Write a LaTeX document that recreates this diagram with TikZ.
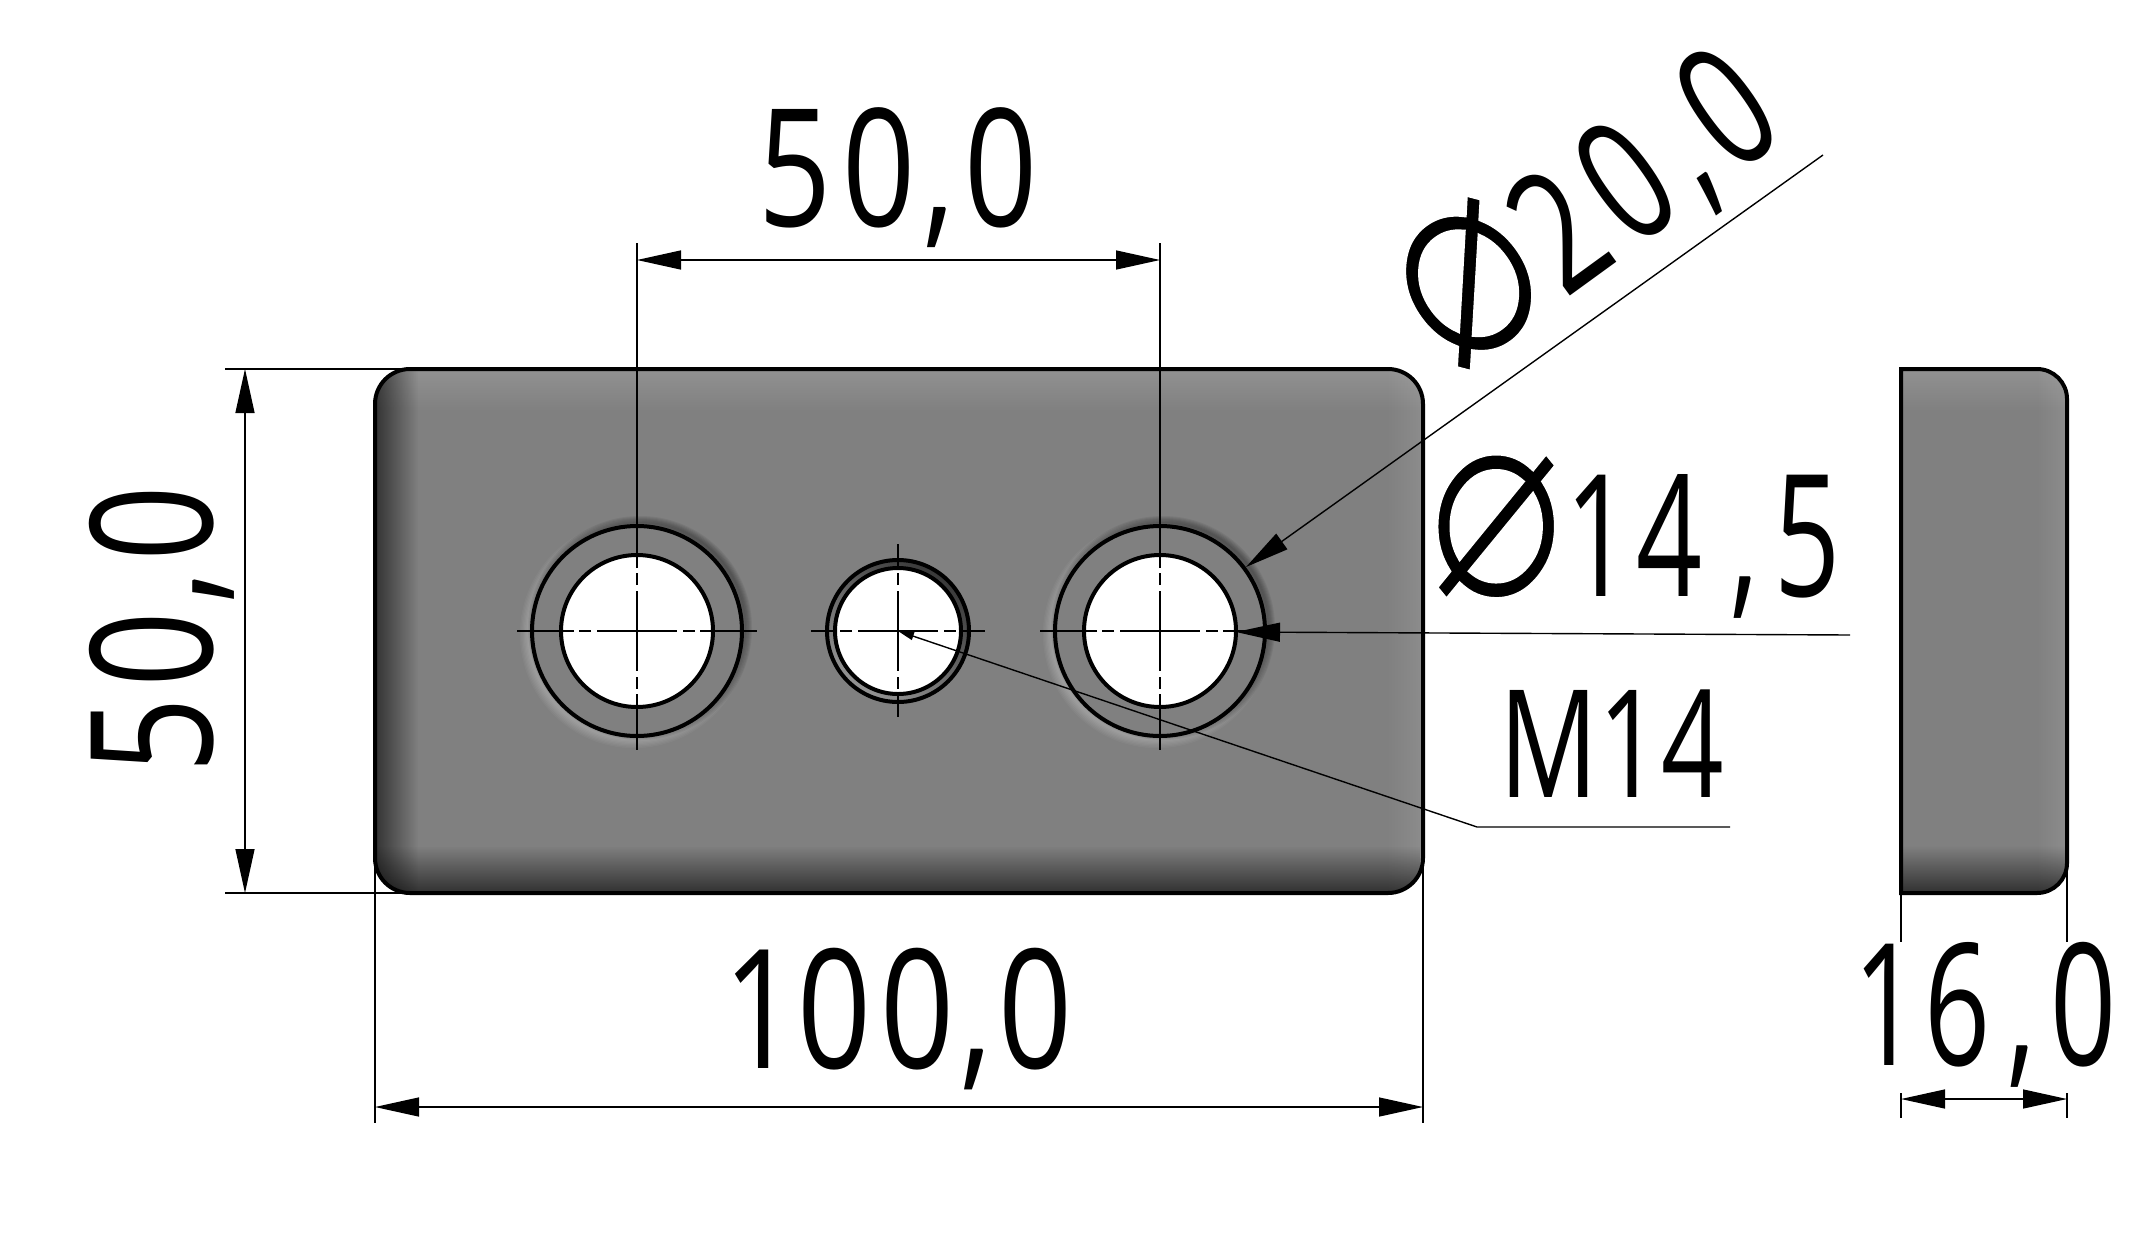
\documentclass[tikz,border=0pt]{standalone}
\usepackage{fontspec}
\usepackage{graphicx}
\setmainfont{Open Sans}
\newfontfamily\symfont{DejaVu Sans}
\usetikzlibrary{arrows.meta,fadings}
\tikzfading[name=fdL, left color=transparent!0, right color=transparent!100]
\tikzfading[name=fdR, left color=transparent!100, right color=transparent!0]
\tikzfading[name=fdT, top color=transparent!0, bottom color=transparent!100]
\tikzfading[name=fdB, top color=transparent!100, bottom color=transparent!0]
\newcommand{\dimfont}[1]{\fontsize{#1}{#1}\selectfont}
\newcommand{\dgx}{.78}
\newcommand{\dg}[1]{\scalebox{\dgx}[1]{#1}}
\newcommand{\setdgx}[1]{\renewcommand{\dgx}{#1}}
\newcommand{\diasym}{\scalebox{1.35}[1.65]{\special{pdf:code q 2 Tr 3.5 w 1 1 1 RG}\symfont\char"2300\special{pdf:code Q}}}
\tikzset{
  thin line/.style={line width=1.4pt,black},
  outline/.style={line width=4pt,black},
  dimtext/.style={inner sep=0pt,outer sep=0pt,anchor=base,black},
  dim both/.style={thin line,{Triangle[length=44pt,width=19pt]}-{Triangle[length=44pt,width=19pt]}},
  dim tip/.style={thin line,{Triangle[length=44pt,width=19pt]}-},
  dim small/.style={thin line,{Triangle[length=16pt,width=8pt]}-},
}
% centre-line cross: cx, cy, half length, top, bottom
\newcommand{\crosshair}[5]{%
  \foreach \sgn in {-1,1}{%
    \draw[thin line] (#1,#2) -- ++(\sgn*40,0);
    \draw[thin line] (#1,#2) ++(\sgn*46,0) -- ++(\sgn*12,0);
    \draw[thin line] (#1,#2) ++(\sgn*63,0) -- ++(\sgn*#3-\sgn*63,0);
    \draw[thin line] (#1,#2) -- ++(0,\sgn*40);
    \draw[thin line] (#1,#2) ++(0,\sgn*46) -- ++(0,\sgn*12);
  }%
  \draw[thin line] (#1,#2-63) -- (#1,#4);
  \draw[thin line] (#1,#2+63) -- (#1,#5);
}
\newcommand{\dimple}[3]{%
  \foreach \k in {1,...,7}{\fill[white,opacity=.04] (#1-3,#2+3) circle ({#3+\k*1.3});}
  \foreach \k in {1,...,7}{\fill[black,opacity=.06] (#1+3,#2-3) circle ({#3+\k*1.0});}
}
\begin{document}
\begin{tikzpicture}[x=1pt,y=-1pt]
\useasboundingbox (0,0) rectangle (2143,1244);
\fill[white] (0,0) rectangle (2143,1244);

% ----- texts set first where leaders pass near them
\node[dimtext] (dimE) at (1634,596) {\dimfont{170}\setdgx{.68}\diasym\dg{1}\kern5pt\dg{4}\kern28pt\dg{,}\kern16pt\dg{5}};
\node[dimtext,rotate=36] (dimG) at (1622,258) {\dimfont{170}\setdgx{.72}\diasym\dg{2}\kern13pt\dg{0}\kern14pt\dg{,}\kern11pt\dg{0}};

% ----- front view
\begin{scope}
  \clip[rounded corners=35pt] (375,369) rectangle (1423,893);
  \fill[black!50] (375,369) rectangle (1423,893);
  \fill[white,opacity=.14,path fading=fdT] (375,369) rectangle (1423,412);
  \fill[white,opacity=.10,path fading=fdR] (1385,369) rectangle (1423,893);
  \fill[black,opacity=.62,path fading=fdB] (375,846) rectangle (1423,893);
  \fill[black,opacity=.60,path fading=fdL] (375,369) rectangle (418,893);
\end{scope}
\draw[outline,rounded corners=35pt] (375,369) rectangle (1423,893);

% ----- holes
\dimple{637}{631}{105}
\dimple{1160}{631}{105}
\fill[black!50] (637,631) circle (105);
\fill[black!50] (1160,631) circle (105);
\draw[outline] (637,631) circle (105);
\draw[outline] (1160,631) circle (105);
\draw[outline,fill=white] (637,631) circle (76);
\draw[outline,fill=white] (1160,631) circle (76);
\shade[top color=black!78,bottom color=black!42,shading angle=-35] (898,631) circle (70);
\draw[line width=4pt] (898,631) circle (71);
\draw[line width=4pt,fill=white] (898,631) circle (63);

% ----- centre lines
\crosshair{637}{631}{120}{243}{750}
\crosshair{1160}{631}{120}{243}{750}
\crosshair{898}{631}{87}{544}{717}

% ----- side view
\begin{scope}
  \clip (1901,369) -- (2037,369) arc[start angle=-90,end angle=0,radius=30] -- (2067,863) arc[start angle=0,end angle=90,radius=30] -- (1901,893) -- cycle;
  \fill[black!50] (1901,369) rectangle (2067,893);
  \fill[white,opacity=.14,path fading=fdT] (1901,369) rectangle (2067,412);
  \fill[white,opacity=.10,path fading=fdR] (2035,369) rectangle (2067,893);
  \fill[black,opacity=.62,path fading=fdB] (1901,846) rectangle (2067,893);
\end{scope}
\draw[outline] (1901,369) -- (2037,369) arc[start angle=-90,end angle=0,radius=30] -- (2067,863) arc[start angle=0,end angle=90,radius=30] -- (1901,893) -- cycle;

% ----- extension lines
\draw[thin line] (225,369) -- (405,369);
\draw[thin line] (225,893) -- (405,893);
\draw[thin line] (375,860) -- (375,1123);
\draw[thin line] (1423,860) -- (1423,1123);
\draw[thin line] (1901,893) -- (1901,942);
\draw[thin line] (2067,860) -- (2067,942);
\draw[thin line] (1901,1093) -- (1901,1118);
\draw[thin line] (2067,1093) -- (2067,1118);

% ----- dimension lines
\coordinate (t1) at (637,260); \coordinate (t2) at (1160,260);
\coordinate (l1) at (245,369); \coordinate (l2) at (245,893);
\coordinate (b1) at (375,1107); \coordinate (b2) at (1423,1107);
\coordinate (s1) at (1901,1099); \coordinate (s2) at (2067,1099);
\draw[dim both] (t1) -- (t2);
\draw[dim both] (l1) -- (l2);
\draw[dim both] (b1) -- (b2);
\draw[dim both] (s1) -- (s2);

% ----- leaders
\coordinate (d20tip) at (1246,567); \coordinate (d20end) at (1823,155);
\coordinate (d14tip) at (1236,632); \coordinate (d14end) at (1850,635);
\coordinate (m14tip) at (898,631); \coordinate (m14elbow) at (1477,827); \coordinate (m14end) at (1730,827);
\draw[dim tip] (d20tip) -- (d20end);
\draw[dim tip] (d14tip) -- (d14end);
\draw[dim small] (m14tip) -- (m14elbow) -- (m14end);

% ----- texts
\node[dimtext] (dimA) at (898,226) {\dimfont{164}\setdgx{.78}\dg{5}\kern11pt\dg{0}\kern8pt\dg{,}\kern9pt\dg{0}};
\node[dimtext,rotate=90] (dimB) at (212,630) {\dimfont{170}\setdgx{.78}\dg{5}\kern11pt\dg{0}\kern8pt\dg{,}\kern9pt\dg{0}};
\node[dimtext] (dimC) at (898,1068) {\dimfont{166}\setdgx{.78}\dg{1}\dg{0}\kern9pt\dg{0}\kern6pt\dg{,}\kern7pt\dg{0}};
\node[dimtext] (dimD) at (1985,1065) {\dimfont{170}\setdgx{.68}\dg{1}\kern5pt\dg{6}\kern17pt\dg{,}\kern15pt\dg{0}};
\node[dimtext] (dimF) at (1612,797) {\dimfont{150}\scalebox{.73}[1]{M14}};
\end{tikzpicture}
\end{document}
